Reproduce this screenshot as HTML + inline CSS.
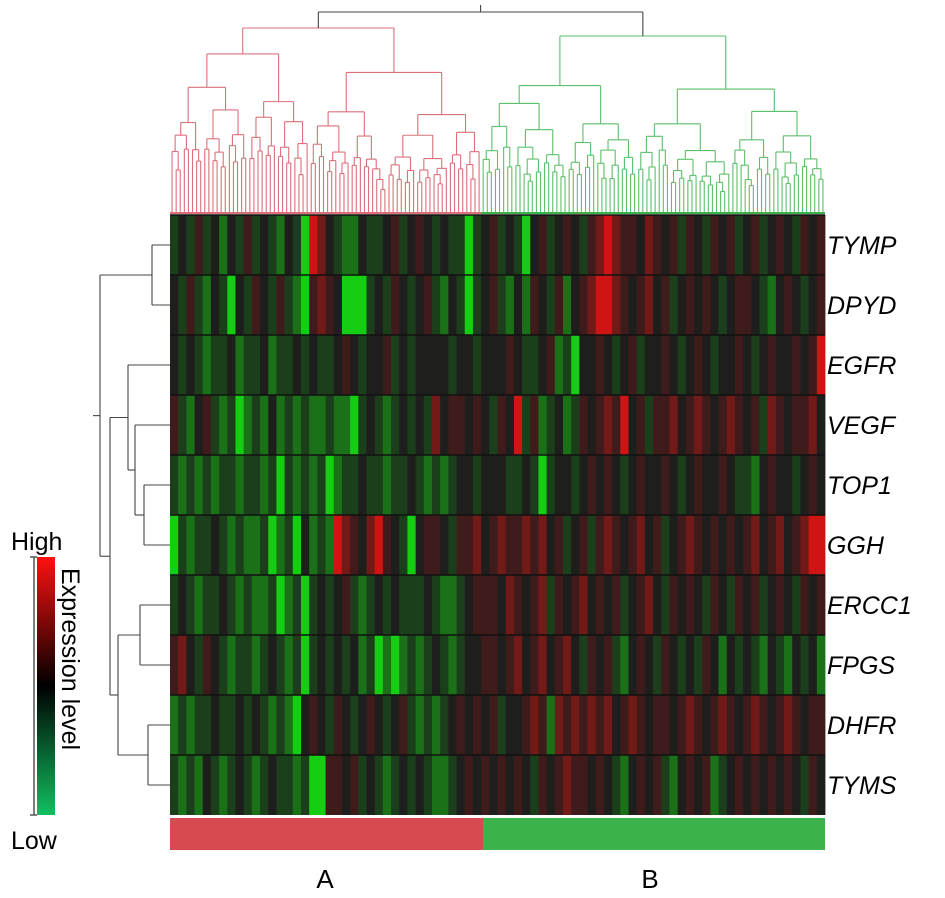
<!DOCTYPE html>
<html><head><meta charset="utf-8"><style>
body{margin:0;background:#fff;}
svg{display:block;font-family:"Liberation Sans",sans-serif;}
</style></head><body>
<svg id="chart" width="945" height="898" viewBox="0 0 945 898" xmlns="http://www.w3.org/2000/svg">
<defs><linearGradient id="lg" x1="0" y1="0" x2="0" y2="1"><stop offset="0" stop-color="#ff1010"/><stop offset="0.5" stop-color="#000"/><stop offset="1" stop-color="#10c060"/></linearGradient></defs>
<g id="topdendro"></g>
<g id="leftdendro"></g>
<g id="cells"></g>
<g id="labels"></g>
<rect x="170" y="818" width="313" height="32" fill="#d84a52"/>
<rect x="483" y="818" width="342" height="32" fill="#3bb24a"/>
<text x="325" y="888" font-size="26" text-anchor="middle">A</text>
<text x="650" y="888" font-size="26" text-anchor="middle">B</text>
<g>
<text x="11" y="550" font-size="25">High</text>
<text x="11" y="849" font-size="25">Low</text>
<path d="M30 557 H37 M34 557 V815 M30 815 H37" stroke="#555" stroke-width="1.5" fill="none"/>
<rect x="37" y="557" width="18" height="258" fill="url(#lg)"/>
<text transform="translate(62,568) rotate(90)" font-size="25">Expression level</text>
</g>
</svg>
<script>
const genes=["TYMP","DPYD","EGFR","VEGF","TOP1","GGH","ERCC1","FPGS","DHFR","TYMS"];
const rowTYMP=[-1,0,-1,1,-1,0,-2,0,-1,1,-1,0,-1,-2,0,-1,-3,3,2,0,-1,-2,-2,0,-1,-1,0,1,-1,0,1,0,-1,0,-1,-1,-3,-1,0,1,-1,0,-1,-3,0,1,-1,0,1,0,-1,1,2,3,2,1,1,0,2,1,0,1,-1,1,0,-1,1,0,1,-1,0,1,-1,0,1,0,-1,1,0,1];
const rowDPYD=[0,-1,1,-1,-2,0,-1,-3,0,-1,1,0,-1,1,-1,-2,-3,1,2,1,0,-3,-3,-3,-1,0,-1,1,0,-1,0,1,-1,-2,0,-1,-3,-1,0,1,-1,-2,0,-2,1,0,-1,1,-2,0,1,2,3,3,2,1,0,1,2,0,1,-1,0,1,0,1,0,-1,0,1,1,0,-1,-2,0,1,0,-1,0,1];
const rowEGFR=[0,-1,0,-1,-2,-1,-1,0,-2,-1,-1,0,-2,-1,-1,0,-1,0,-1,-1,0,1,0,-1,0,0,1,-1,0,-1,0,0,0,0,-1,0,0,-1,0,0,0,1,0,-1,-1,0,1,-2,-1,-3,0,0,1,0,-1,0,1,-1,0,0,1,0,-1,0,1,0,-1,0,0,1,0,-1,0,1,0,0,1,0,1,3];
const rowVEGF=[1,-1,-2,0,1,-1,-2,-1,-3,-2,-1,-2,0,-2,-1,-2,-1,-2,-2,-1,-2,-2,-3,-1,0,-1,-2,-1,0,-1,0,-1,2,0,1,1,0,1,0,-1,1,0,3,-1,1,-2,-1,0,-2,-1,1,0,1,2,1,3,0,1,-1,1,1,2,0,1,2,1,0,1,2,1,0,1,-1,2,1,0,1,1,2,0];
const rowTOP1=[-1,-2,-1,-2,-1,-2,-1,-1,-2,-1,-1,-2,-1,-3,-1,-2,-1,-2,-1,-3,-2,-1,-1,0,-1,-1,-2,-1,-1,0,-1,-2,-1,-2,-1,0,0,-1,0,0,0,-1,-1,0,-1,-3,-1,0,0,-1,0,1,0,1,0,-1,0,1,0,0,1,0,-1,0,1,0,0,1,0,-1,-1,-2,0,1,0,0,-1,0,1,0];
const rowGGH=[-3,-1,-2,-1,-1,0,-1,-2,-1,-2,-2,-1,-3,-2,-1,-3,0,-2,-1,-2,3,2,1,0,2,3,1,0,-1,-3,0,1,1,0,-1,1,1,2,0,1,2,1,1,2,1,2,0,1,-1,0,1,-1,1,2,1,0,1,2,0,1,-1,0,1,2,1,0,1,0,1,0,1,2,0,1,2,0,1,2,3,3];
const rowERCC1=[-1,0,-1,-2,-1,-1,0,-1,-2,-1,-2,-2,-1,-3,-2,-1,-3,-1,0,-1,0,1,-1,-2,-1,0,-1,0,-1,-1,-1,0,-1,-2,-2,-1,0,1,1,1,0,2,1,0,1,2,-1,1,0,1,2,0,1,0,1,-1,0,1,2,0,-1,1,0,1,0,-1,1,0,-1,1,0,1,-1,0,1,0,-1,1,0,1];
const rowFPGS=[1,2,0,-1,1,0,-1,-2,-1,-1,-2,-1,0,-1,-2,-1,-3,-1,0,-1,0,-1,0,-2,-1,-3,-2,-3,-2,-1,-2,-1,0,-1,-2,-1,0,0,1,1,0,1,2,0,1,2,0,1,2,0,-1,1,0,1,-1,-2,0,1,0,-1,1,0,-1,0,-1,1,0,-2,0,-1,0,-1,-2,0,-1,-2,0,-1,0,-2];
const rowDHFR=[-2,-1,-2,-1,-1,0,-1,-1,0,-1,0,-1,-2,-1,-2,-3,0,1,0,-1,1,0,-1,0,1,0,-1,0,1,-1,-2,-1,-2,-1,0,1,0,1,0,1,-1,0,0,1,2,1,-2,2,1,2,1,2,1,2,0,1,2,1,0,1,1,0,1,2,1,0,1,2,1,0,1,2,1,0,1,2,1,0,1,1];
const rowTYMS=[-1,-2,-1,-2,0,-1,-2,-1,0,-1,-2,-1,0,-1,-1,-2,-1,-3,-3,1,1,0,1,-1,0,-1,-2,-1,0,-1,0,-1,-2,-2,-1,0,1,0,1,0,1,0,1,0,-1,1,0,1,2,1,1,0,1,0,-1,-2,0,1,0,1,-1,-2,0,1,0,1,-2,-1,0,1,0,1,0,1,0,1,0,-1,1,0];
const rows=[rowTYMP,rowDPYD,rowEGFR,rowVEGF,rowTOP1,rowGGH,rowERCC1,rowFPGS,rowDHFR,rowTYMS];

const NS="http://www.w3.org/2000/svg";
const X0=170,X1=825,Y0=215,RH=60,NC=rowTYMP.length;
const cw=(X1-X0)/NC;
const xs=c=>X0+c*cw, ys=r=>Y0+r*RH;
function color(v){const a=Math.min(Math.abs(v)/3,1);const t=a<=0.34?0.18*a/0.34:(a<=0.67?0.18+0.27*(a-0.34)/0.33:0.45+0.5*(a-0.67)/0.33);
const b=[30,30,28];const g=[20,215,20],r=[215,20,20];const tg=v<0?g:r;
return "rgb("+b.map((x,i)=>Math.round(x+(tg[i]-x)*t)).join(",")+")";}
const cells=document.getElementById("cells");
rows.forEach((row,ri)=>{row.forEach((v,ci)=>{const e=document.createElementNS(NS,"rect");
e.setAttribute("x",xs(ci));e.setAttribute("y",ys(ri));e.setAttribute("width",cw+0.4);e.setAttribute("height",RH);e.setAttribute("fill",color(v));


cells.appendChild(e);});
const ln=document.createElementNS(NS,"line");ln.setAttribute("x1",X0);ln.setAttribute("x2",X1);ln.setAttribute("y1",ys(ri));ln.setAttribute("y2",ys(ri));ln.setAttribute("stroke","#111");ln.setAttribute("stroke-width","1.5");


cells.appendChild(ln);});
const labels=document.getElementById("labels");
genes.forEach((g,i)=>{const t=document.createElementNS(NS,"text");t.setAttribute("x",827);t.setAttribute("y",ys(i)+39);t.setAttribute("font-size","25");t.setAttribute("font-style","italic");t.textContent=g;


labels.appendChild(t);});

function line(g,x1,y1,x2,y2,c,w){const l=document.createElementNS(NS,"line");l.setAttribute("x1",x1);l.setAttribute("y1",y1);l.setAttribute("x2",x2);l.setAttribute("y2",y2);l.setAttribute("stroke",c);l.setAttribute("stroke-width",w||"1.1");


g.appendChild(l);}
const td=document.getElementById("topdendro");
const fr=[0.45,0.55,0.4,0.6,0.5,0.35,0.65];
const BOT=213;
const hx=c=>X0+c*cw/2;
function tree(l,r,top,d,c){
 if(r-l<1.5){const cx=hx(l+(r-l)/2);line(td,cx,top,cx,BOT,c);return cx;}
 const m=Math.round(l+(r-l)*fr[(d+l)%fr.length]);
 const mm=Math.max(l+1,Math.min(r-1,m));
 const tl=top+(BOT-top)*(0.14+0.07*((d+l)%3)), tr=top+(BOT-top)*(0.18+0.06*((d+r)%3));
 const a=tree(l,mm,tl,d+1,c), b=tree(mm,r,tr,d+1,c);
 line(td,a,top,b,top,c);line(td,a,top,a,tl,c);line(td,b,top,b,tr,c);
 return (a+b)/2;}
const ca=tree(0,76,28,0,"#d9707a"), cb=tree(76,160,36,1,"#5cbf6a");
line(td,ca,12,cb,12,"#444");line(td,ca,12,ca,28,"#444");line(td,cb,12,cb,36,"#444");line(td,(ca+cb)/2,5,(ca+cb)/2,12,"#444");
line(td,X0,BOT,hx(76),BOT,"#d9707a","2");line(td,hx(76),BOT,X1,BOT,"#3bb24a","2");

const ld=document.getElementById("leftdendro");const K="#444";
const yc=i=>ys(i)+30;
function hl(x,y,x2){line(ld,x,y,x2,y,K);} function vl(x,y1,y2){line(ld,x,y1,x,y2,K);}
vl(152,yc(0),yc(1));hl(152,yc(0),170);hl(152,yc(1),170);
vl(144,yc(4),yc(5));hl(144,yc(4),170);hl(144,yc(5),170);
const tg=(yc(4)+yc(5))/2; vl(135,yc(3),tg);hl(135,yc(3),170);hl(135,tg,144);
const v2=(yc(3)+tg)/2; vl(128,yc(2),v2);hl(128,yc(2),170);hl(128,v2,135);
vl(140,yc(6),yc(7));hl(140,yc(6),170);hl(140,yc(7),170);
vl(148,yc(8),yc(9));hl(148,yc(8),170);hl(148,yc(9),170);
const e1=(yc(6)+yc(7))/2,e2=(yc(8)+yc(9))/2; vl(118,e1,e2);hl(118,e1,140);hl(118,e2,148);
const u=(yc(2)+v2)/2,lo=(e1+e2)/2; vl(110,u,lo);hl(110,u,128);hl(110,lo,118);
const t1=(yc(0)+yc(1))/2,m2=(u+lo)/2; vl(100,t1,m2);hl(100,t1,152);hl(100,m2,110);
hl(93,(t1+m2)/2,100);
</script>
</body></html>
